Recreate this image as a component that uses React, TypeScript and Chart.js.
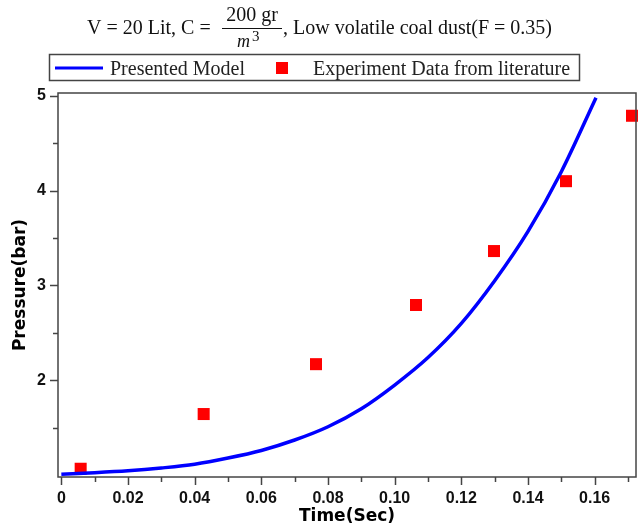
import { useEffect, useRef } from 'react';
import { Chart, registerables } from 'chart.js';

Chart.register(...registerables);

// ---- data ----
const modelTime = [0, 0.01, 0.02, 0.03, 0.04, 0.05, 0.06, 0.07, 0.08, 0.09, 0.1, 0.11, 0.12, 0.13, 0.14, 0.15, 0.1604];
const modelPressure = [1.01, 1.025, 1.045, 1.075, 1.115, 1.18, 1.26, 1.37, 1.51, 1.7, 1.95, 2.24, 2.6, 3.05, 3.57, 4.2, 4.98];

const expTime = [0.0058, 0.0427, 0.0764, 0.1064, 0.1298, 0.1514, 0.1712];
const expPressure = [1.067, 1.644, 2.17, 2.794, 3.363, 4.1, 4.79];

const xTickValues = [0, 0.01, 0.02, 0.03, 0.04, 0.05, 0.06, 0.07, 0.08, 0.09, 0.1, 0.11, 0.12, 0.13, 0.14, 0.15, 0.16, 0.17];
const xTickLabels = ['0', '', '0.02', '', '0.04', '', '0.06', '', '0.08', '', '0.10', '', '0.12', '', '0.14', '', '0.16', ''];
const yTickValues = [1.5, 2, 2.5, 3, 3.5, 4, 4.5, 5];
const yTickLabels = ['', '2', '', '3', '', '4', '', '5'];

const titleLeft = 'V = 20 Lit, C = ';
const titleNumerator = '200 gr';
const titleDenominator = 'm';
const titleExponent = '3';
const titleRight = ', Low volatile coal dust(F = 0.35)';
const seriesModel = 'Presented Model';
const seriesExp = 'Experiment Data from literature';
const xTitle = 'Time(Sec)';
const yTitle = 'Pressure(bar)';

const BLUE = '#0000ff';
const RED = '#ff0000';
const FRAME = '#444444';

const decorPlugin = {
  id: 'decor',
  afterDraw(chart: any) {
    const ctx = chart.ctx as CanvasRenderingContext2D;
    const area = chart.chartArea;
    const xs = chart.scales.x;
    const ys = chart.scales.y;
    ctx.save();
    // frame
    ctx.strokeStyle = FRAME;
    ctx.lineWidth = 1.5;
    ctx.strokeRect(area.left, area.top, area.right - area.left, area.bottom - area.top);
    // ticks
    ctx.lineWidth = 1.5;
    ctx.beginPath();
    xs.ticks.forEach((t: any, i: number) => {
      const px = Math.round(xs.getPixelForValue(t.value)) + 0.5;
      const len = xTickLabels[i] ? 8 : 5;
      ctx.moveTo(px, area.bottom);
      ctx.lineTo(px, area.bottom + len);
    });
    ys.ticks.forEach((t: any, i: number) => {
      const py = Math.round(ys.getPixelForValue(t.value)) + 0.5;
      const len = yTickLabels[i] ? 8 : 5;
      ctx.moveTo(area.left, py);
      ctx.lineTo(area.left - len, py);
    });
    ctx.stroke();

    // title
    ctx.fillStyle = '#111';
    ctx.textBaseline = 'alphabetic';
    ctx.textAlign = 'left';
    ctx.font = '20px "Liberation Serif"';
    ctx.fillText(titleLeft, 87, 34);
    ctx.textAlign = 'center';
    ctx.fillText(titleNumerator, 252, 21);
    ctx.textAlign = 'left';
    ctx.fillText(titleRight, 283, 34);
    ctx.beginPath();
    ctx.strokeStyle = '#111';
    ctx.lineWidth = 1;
    ctx.moveTo(222, 28.5);
    ctx.lineTo(282, 28.5);
    ctx.stroke();
    ctx.font = 'italic 18px "Liberation Serif"';
    ctx.fillText(titleDenominator, 237, 47);
    ctx.font = '15px "Liberation Serif"';
    ctx.fillText(titleExponent, 252, 41);

    // legend
    ctx.strokeStyle = FRAME;
    ctx.lineWidth = 1.5;
    ctx.strokeRect(49.5, 54.5, 530, 26);
    ctx.beginPath();
    ctx.strokeStyle = BLUE;
    ctx.lineWidth = 3;
    ctx.moveTo(55, 68);
    ctx.lineTo(103, 68);
    ctx.stroke();
    ctx.fillStyle = RED;
    ctx.fillRect(276, 62, 12, 12);
    ctx.fillStyle = '#222';
    ctx.font = '20px "Liberation Serif"';
    ctx.fillText(seriesModel, 110, 75);
    ctx.fillText(seriesExp, 313, 75);
    ctx.restore();
  },
};

export default function App() {
  const ref = useRef<HTMLCanvasElement | null>(null);
  useEffect(() => {
    if (!ref.current) return;
    const tickFont = { family: '"Liberation Sans"', weight: 'bold' as const, size: 16 };
    const titleFont = { family: '"DejaVu Sans"', weight: 'bold' as const, size: 17, lineHeight: 1.0 };
    const chart = new Chart(ref.current, {
      type: 'line',
      data: {
        datasets: [
          {
            label: seriesModel,
            data: modelTime.map((t, i) => ({ x: t, y: modelPressure[i] })),
            borderColor: BLUE,
            backgroundColor: BLUE,
            borderWidth: 3.5,
            pointRadius: 0,
            cubicInterpolationMode: 'monotone',
            fill: false,
          },
          {
            label: seriesExp,
            data: expTime.map((t, i) => ({ x: t, y: expPressure[i] })),
            showLine: false,
            pointStyle: 'rect',
            pointRadius: 8.5,
            pointBackgroundColor: RED,
            pointBorderColor: RED,
            pointBorderWidth: 0,
            clip: 12,
          } as any,
        ],
      },
      options: {
        animation: false,
        responsive: false,
        devicePixelRatio: 1,
        layout: { autoPadding: false, padding: { top: 93, right: 2, left: 0, bottom: 0 } },
        plugins: {
          legend: { display: false },
          title: { display: false },
          tooltip: { enabled: false },
        },
        scales: {
          x: {
            type: 'linear',
            min: -0.001,
            max: 0.1724,
            afterBuildTicks: (s: any) => {
              s.ticks = xTickValues.map((v) => ({ value: v }));
            },
            afterFit: (s: any) => {
              s.height = 48;
              s.paddingLeft = 0;
              s.paddingRight = 0;
            },
            ticks: {
              autoSkip: false,
              maxRotation: 0,
              minRotation: 0,
              padding: 4,
              color: '#111',
              font: tickFont,
              callback: (_v: any, i: number) => xTickLabels[i],
            },
            grid: { display: false, tickLength: 8 },
            border: { display: false },
            title: { display: true, text: xTitle, color: '#000', font: titleFont, padding: { top: 0, bottom: 0 } },
          },
          y: {
            type: 'linear',
            min: 0.98,
            max: 5.03,
            afterBuildTicks: (s: any) => {
              s.ticks = yTickValues.map((v) => ({ value: v }));
            },
            afterFit: (s: any) => {
              s.width = 58;
              s.paddingTop = 0;
              s.paddingBottom = 0;
            },
            ticks: {
              autoSkip: false,
              padding: 4,
              color: '#111',
              font: tickFont,
              callback: (_v: any, i: number) => yTickLabels[i],
            },
            grid: { display: false, tickLength: 8 },
            border: { display: false },
            title: { display: true, text: yTitle, color: '#000', font: titleFont, padding: { top: 12, bottom: 0 } },
          },
        },
      },
      plugins: [decorPlugin],
    });
    return () => chart.destroy();
  }, []);
  return (
    <div style={{ position: 'fixed', left: 0, top: 0, width: 638, height: 525, background: '#fff' }}>
      <canvas ref={ref} width={638} height={525} />
    </div>
  );
}
